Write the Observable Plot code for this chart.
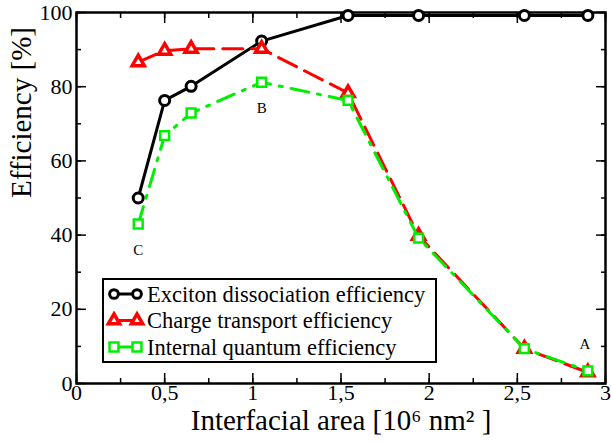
<!DOCTYPE html>
<html>
<head>
<meta charset="utf-8">
<script src="https://cdn.jsdelivr.net/npm/d3@7"></script>
<script src="https://cdn.jsdelivr.net/npm/@observablehq/plot@0.6"></script>
<style>
  html, body { margin: 0; padding: 0; background: #fff; }
  #wrap { position: relative; width: 611px; height: 442px; }
  #legend { position: absolute; left: 102px; top: 278px; width: 331px; height: 81px;
    border: 2px solid #000; background: #fff; }
  #legend svg { position: absolute; left: 0; top: 0; }
</style>
</head>
<body>
<div id="wrap"><div id="legend"></div></div>
<script>
// Data
const area = [0.35, 0.5, 0.65, 1.05, 1.54, 1.94, 2.54, 2.9];
const exciton = [50, 76.3, 80.1, 92.3, 99.2, 99.2, 99.2, 99.2];
const transport = [86.6, 89.7, 90.2, 90.2, 78.3, 39.8, 9.4, 3.0];
const internal = [43.0, 66.8, 72.9, 81.2, 76.3, 39.2, 9.4, 3.4];
const seriesNames = ["Exciton dissociation efficiency", "Charge transport efficiency", "Internal quantum efficiency"];
const pointLabels = [{x: 0.35, y: 43.0, t: "C"}, {x: 1.05, y: 81.2, t: "B"}, {x: 2.9, y: 3.4, t: "A"}];
const xTicks = [0, 0.5, 1, 1.5, 2, 2.5, 3];
const xMinor = d3.range(0, 3.001, 0.25);
const yTicks = [0, 20, 40, 60, 80, 100];
const yMinor = d3.range(0, 100.1, 10);
const xTitle = ["Interfacial area [10⁶ nm² ]"];
const yTitle = ["Efficiency [%]"];

const BLACK = "#000000", RED = "#ff0000", GREEN = "#00ee00";
const rows = (ys) => area.map((x, i) => ({x, y: ys[i]}));
const E = rows(exciton), T = rows(transport), Q = rows(internal);
const fmt = d => String(d).replace(".", ",");
const font = "'Liberation Serif', 'Times New Roman', serif";

const chart = Plot.plot({
  width: 611, height: 442,
  marginLeft: 76, marginRight: 6, marginTop: 12, marginBottom: 59,
  style: {fontFamily: font, fontSize: "22px", color: "#000", background: "#fff"},
  x: {domain: [0, 3]},
  y: {domain: [0, 100]},
  marks: [
    // tick marks (inward), all four sides
    Plot.axisX(xTicks, {anchor: "bottom", tickSize: -10, tickFormat: () => "", label: null, strokeWidth: 1.5}),
    Plot.axisX(xMinor, {anchor: "bottom", tickSize: -5, tickFormat: () => "", label: null, strokeWidth: 1.5}),
    Plot.axisX(xTicks, {anchor: "top", tickSize: -10, tickFormat: () => "", label: null, strokeWidth: 1.5}),
    Plot.axisX(xMinor, {anchor: "top", tickSize: -5, tickFormat: () => "", label: null, strokeWidth: 1.5}),
    Plot.axisY(yTicks, {anchor: "left", tickSize: -10, tickFormat: () => "", label: null, strokeWidth: 1.5}),
    Plot.axisY(yMinor, {anchor: "left", tickSize: -5, tickFormat: () => "", label: null, strokeWidth: 1.5}),
    Plot.axisY(yTicks, {anchor: "right", tickSize: -10, tickFormat: () => "", label: null, strokeWidth: 1.5}),
    Plot.axisY(yMinor, {anchor: "right", tickSize: -5, tickFormat: () => "", label: null, strokeWidth: 1.5}),
    // tick labels
    Plot.axisX(xTicks, {anchor: "bottom", tickSize: 0, tickPadding: 1, tickFormat: fmt, label: null, fontSize: 22, fontFamily: font}),
    Plot.axisY(yTicks, {anchor: "left", tickSize: 0, tickPadding: 4, label: null, fontSize: 22, fontFamily: font}),
    // axis titles
    Plot.text(xTitle, {text: d => d, frameAnchor: "bottom", dy: 46, fontSize: 29, fontFamily: font}),
    Plot.text(yTitle, {text: d => d, frameAnchor: "left", dx: -55, rotate: -90, fontSize: 29, fontFamily: font}),
    Plot.frame({stroke: "#000", strokeWidth: 2.5}),
    // series
    Plot.line(E, {x: "x", y: "y", stroke: BLACK, strokeWidth: 3}),
    Plot.dot(E, {x: "x", y: "y", symbol: "circle", r: 5, stroke: BLACK, strokeWidth: 3, fill: "#fff"}),
    Plot.line(T, {x: "x", y: "y", stroke: RED, strokeWidth: 3, strokeDasharray: "20,9"}),
    Plot.dot(T, {x: "x", y: "y", symbol: "triangle", r: 4.5, stroke: RED, strokeWidth: 3.5, fill: "#fff"}),
    Plot.line(Q, {x: "x", y: "y", stroke: GREEN, strokeWidth: 3, strokeDasharray: "18,9,3,9"}),
    Plot.dot(Q, {x: "x", y: "y", symbol: "square", r: 5, stroke: GREEN, strokeWidth: 2.5, fill: "#fff"}),
    // point annotations
    Plot.text(pointLabels, {x: "x", y: "y", text: "t", dy: 26, fontSize: 15, fontFamily: font,
      filter: d => d.t !== "A"}),
    Plot.text(pointLabels, {x: "x", y: "y", text: "t", dy: -27, dx: -3, fontSize: 15, fontFamily: font,
      filter: d => d.t === "A"})
  ]
});
document.getElementById("wrap").prepend(chart);
chart.style.position = "absolute"; chart.style.left = "0"; chart.style.top = "0";

// Legend
const legendStyles = [
  {color: BLACK, symbol: d3.symbolCircle, dash: null, fill: "#fff", sw: 3, size: 60},
  {color: RED, symbol: d3.symbolTriangle, dash: "20,9", fill: "#fff", sw: 3.5, size: 55},
  {color: GREEN, symbol: d3.symbolSquare, dash: "18,9,3,9", fill: "#fff", sw: 2.5, size: 80}
];
const lg = d3.select("#legend").append("svg").attr("width", 331).attr("height", 81);
seriesNames.forEach((name, i) => {
  const cy = 14 + i * 26.5, s = legendStyles[i];
  const g = lg.append("g");
  g.append("line").attr("x1", 10).attr("x2", 33).attr("y1", cy).attr("y2", cy)
    .attr("stroke", s.color).attr("stroke-width", 3).attr("stroke-dasharray", s.dash);
  [10, 33].forEach(cx => g.append("path").attr("d", d3.symbol(s.symbol, s.size)())
    .attr("transform", `translate(${cx},${cy})`).attr("fill", s.fill).attr("stroke", s.color).attr("stroke-width", s.sw));
  g.append("text").attr("x", 43).attr("y", cy).attr("dy", "0.35em").style("font-family", font)
    .style("font-size", "22.5px").text(name);
});
</script>
</body>
</html>
